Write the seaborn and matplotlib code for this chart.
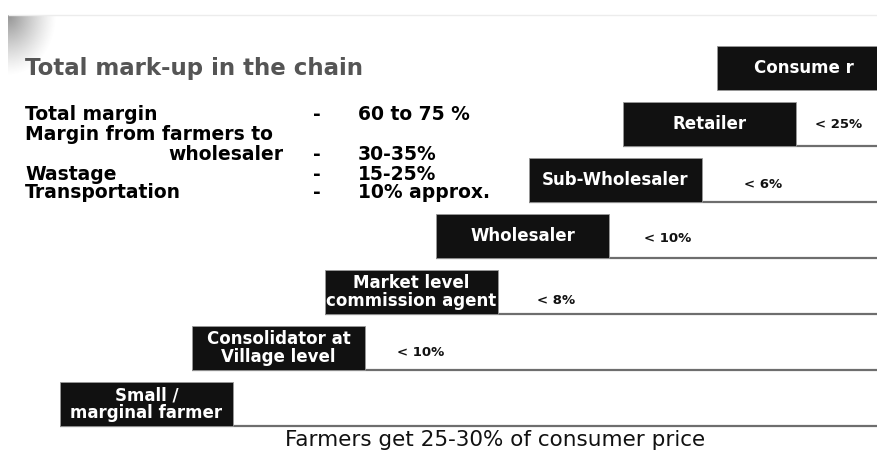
import numpy as np
import seaborn as sns
import matplotlib.pyplot as plt

sns.set_theme(style="white")
plt.rcParams['font.family'] = ['DejaVu Sans']
plt.rcParams['text.color'] = 'black'

# chain stages, bottom to top, and the margin taken at each step
stages = ["Small /\nmarginal farmer", "Consolidator at\nVillage level",
          "Market level\ncommission agent", "Wholesaler", "Sub-Wholesaler",
          "Retailer", "Consume r"]
margins = ["", "< 10%", "< 8%", "< 10%", "< 6%", "< 25%", ""]

# summary block on the left
summary_items = ["Total margin", "Margin from farmers to", "wholesaler",
                 "Wastage", "Transportation"]
summary_values = ["60 to 75 %", "", "30-35%", "15-25%", "10% approx."]

title = "Total mark-up in the chain"
caption = "Farmers get 25-30% of consumer price"

# layout (pixels of the 877x450 canvas)
W, H = 877, 450
gaps = [132, 133, 111, 93, 94, 94]          # horizontal shift between steps
box_left = np.concatenate([[60], 60 + np.cumsum(gaps)])
box_w, box_h = 173, 44
level = np.arange(len(stages))
box_mid = 404 - 56 * level
label_dx = [0, 32, 39, 35, 42, 19, 0]
label_dy = [0, 5, 9, 3, 4, 0, 0]

fig = plt.figure(figsize=(W / 100, H / 100), dpi=100)
ax = fig.add_axes([0, 0, 1, 1])
ax.set_xlim(0, W)
ax.set_ylim(H, 0)
ax.axis("off")

# slide decoration: grey corner shade and faint top rule
yy, xx = np.mgrid[0:70, 0:80]
shade = np.clip(1 - np.sqrt((xx / 48) ** 2 + (yy / 60) ** 2), 0, 1) ** 1.2
rgba = np.zeros((70, 80, 4))
rgba[..., :3] = 0.4
rgba[..., 3] = shade * 0.7
ax.imshow(rgba, extent=[8, 88, 85, 15], zorder=0, interpolation="bilinear")
ax.hlines(15, 8, W, color="#ececec", lw=1, zorder=0)

# horizontal steps under each box
ax.hlines(box_mid[:-1] + box_h / 2, box_left[:-1], W, color="#6e6e6e", lw=1.6, zorder=1)

# the boxes
ax.barh(box_mid, box_w, left=box_left, height=box_h, color="#111111",
        edgecolor="#9a9a9a", linewidth=0.6, zorder=2)
for i, name in enumerate(stages):
    ax.text(box_left[i] + box_w / 2, box_mid[i], name, color="white",
            fontsize=12, fontweight="bold", ha="center", va="center",
            linespacing=1.0, zorder=3, clip_on=True)
    if margins[i]:
        ax.text(box_left[i] + box_w + label_dx[i], box_mid[i] + label_dy[i],
                margins[i], fontsize=9.5, fontweight="bold", ha="left",
                va="center", color="#111111", zorder=3)

# title and summary
ax.text(25, 68, title, fontsize=16.5, fontweight="bold", color="#555555",
        ha="left", va="center")
rows_y = [115, 135, 154, 174, 193]
for y, item, val in zip(rows_y, summary_items, summary_values):
    if item == "wholesaler":
        ax.text(283, y, item, fontsize=13.5, fontweight="bold", ha="right", va="center")
    else:
        ax.text(25, y, item, fontsize=13.5, fontweight="bold", ha="left", va="center")
    if val:
        ax.text(317, y, "-", fontsize=13.5, fontweight="bold", ha="center", va="center")
        ax.text(358, y, val, fontsize=13.5, fontweight="bold", ha="left", va="center")

ax.text(495, 440, caption, fontsize=15.5, ha="center", va="center", color="#111111")

fig.savefig("out.png", dpi=100, facecolor="white")
